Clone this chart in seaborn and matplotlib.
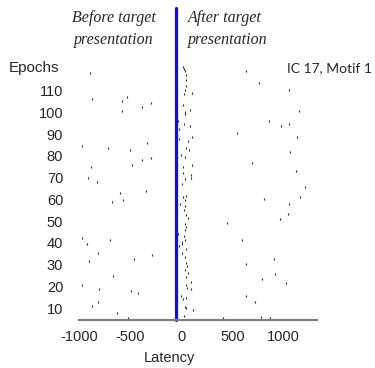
import numpy as np
import pandas as pd
import matplotlib.pyplot as plt
import seaborn as sns

# Spike latencies (ms) and epochs read off the raster
# cluster just after target onset
near_lat = [16, 26, 32, 48, 42, 42, 39, 26, 107, 16, 39, 32, 81, -32, 26, 81, -26,
            104, -26, 65, 48, 71, -42, 0, 39, 107, 16, 16, 39, 91, 91, 6, 48, 16,
            32, -16, 39, 26, 48, 65, 39, 48, 39, -32, 26, 39, 6, 6, -26, 48, 6, 32,
            48, 58, 32, 65, 48, 91, 48, 58, 97, 0, 16, 48, 39, 48, 113, 26]
near_ep = [121, 120, 119, 117, 115, 112, 110, 108.5, 109, 103.4, 100, 99, 101, 96,
           94.7, 93.5, 92.5, 88.6, 87.5, 86.6, 83.7, 82.8, 81.6, 80.5, 79.5, 76, 75,
           72, 69.3, 71, 70, 66.9, 61.4, 61, 59.5, 58, 57, 55, 52.7, 51.2, 48.8, 47.4,
           45.8, 44.3, 43, 41.2, 40.5, 39.4, 38.5, 37.4, 35.4, 33.6, 30.6, 29.5, 27.5,
           26, 24.5, 22.2, 20.7, 19.5, 18.7, 15.6, 14, 14.6, 10.7, 10, 9.2, 6.2]

# before target presentation
pre_lat = [-895, -870, -534, -582, -301, -381, -582, -970, -718, -333, -501, -301,
           -385, -485, -883, -909, -821, -346, -598, -676, -569, -967, -921, -701,
           -815, -291, -902, -462, -669, -967, -802, -495, -424, -815, -876, -634, -521]
pre_ep = [118, 106, 107, 105.4, 104.4, 102.4, 100.4, 84.6, 83.7, 85.8, 82.5, 79, 78,
          76, 75, 70, 68, 64, 62.9, 59, 59.9, 42.3, 39.7, 41.2, 35.4, 34.6, 31.6,
          32.6, 24.7, 20.5, 18.8, 17.8, 16.9, 12.75, 10.8, 7.8, 5.3]

# after target presentation
post_lat = [631, 760, 1057, 1148, 857, 980, 1057, 540, 1135, 1064, 695, 1125, 1206,
            1157, 805, 1057, 1041, 967, 443, 595, 909, 631, 915, 792, 1022, 637, 718,
            779, 410, 863]
post_ep = [118.9, 113.4, 110.3, 100.4, 96.2, 93.5, 94.4, 90.7, 88.8, 81.6, 76.8, 72.8,
           65.6, 61, 60, 58, 53.1, 51.1, 49.1, 41.2, 32.6, 30.5, 25.6, 23.5, 21.7, 15.8,
           12.8, 6, 5.3, 5.3]

y_ticks = [10, 20, 30, 40, 50, 60, 70, 80, 90, 100, 110]
x_ticks = [-1000, -500, 0, 500, 1000]

df = pd.DataFrame({'latency': near_lat + pre_lat + post_lat,
                   'epoch': near_ep + pre_ep + post_ep})

sns.set_style('white')
plt.rcParams['font.family'] = ['Liberation Sans', 'DejaVu Sans']
plt.rcParams['axes.unicode_minus'] = False

fig = plt.figure(figsize=(3.75, 3.68), dpi=100)
ax = fig.add_axes([0.211, 0.130, 0.635, 0.701])

sns.scatterplot(data=df, x='latency', y='epoch', marker='|', s=3.5, color='#222222',
                linewidth=0.8, ax=ax, legend=False)

# target onset
ax.axvline(-50, ymin=0, ymax=1.21, color='#0a0aff', lw=2.3, clip_on=False, zorder=1)

ax.set_xlim(-980, 1330)
ax.set_ylim(4.5, 123)
ax.set_xticks(x_ticks)
ax.set_yticks(y_ticks)
ax.set_xlabel('')
ax.set_ylabel('')
ax.tick_params(axis='x', length=0, pad=7, labelsize=10.5)
ax.tick_params(axis='y', length=0, pad=11.5, labelsize=10.5)

for s in ['top', 'right', 'left']:
    ax.spines[s].set_visible(False)
ax.spines['bottom'].set_color('#808080')
ax.spines['bottom'].set_linewidth(1.6)

fig.text(9 / 375, 1 - 68 / 368, 'Epochs', fontsize=11, ha='left', va='center')
fig.text(169 / 375, 1 - 358 / 368, 'Latency', fontsize=10.5, ha='center', va='center')
fig.text(1 - 3 / 375, 1 - 68 / 368, 'IC 17, Motif 1', fontsize=10, ha='right',
         va='center', family=['Lato', 'DejaVu Sans'])

serif = dict(family=['Liberation Serif', 'DejaVu Serif'], style='italic', fontsize=11.5)
fig.text(114 / 375, 1 - 29 / 368, 'Before target\npresentation', ha='center',
         va='center', linespacing=1.45, **serif)
fig.text(188 / 375, 1 - 29 / 368, 'After target\npresentation', ha='left',
         va='center', linespacing=1.45, **serif)

plt.savefig('out.png', dpi=100)
